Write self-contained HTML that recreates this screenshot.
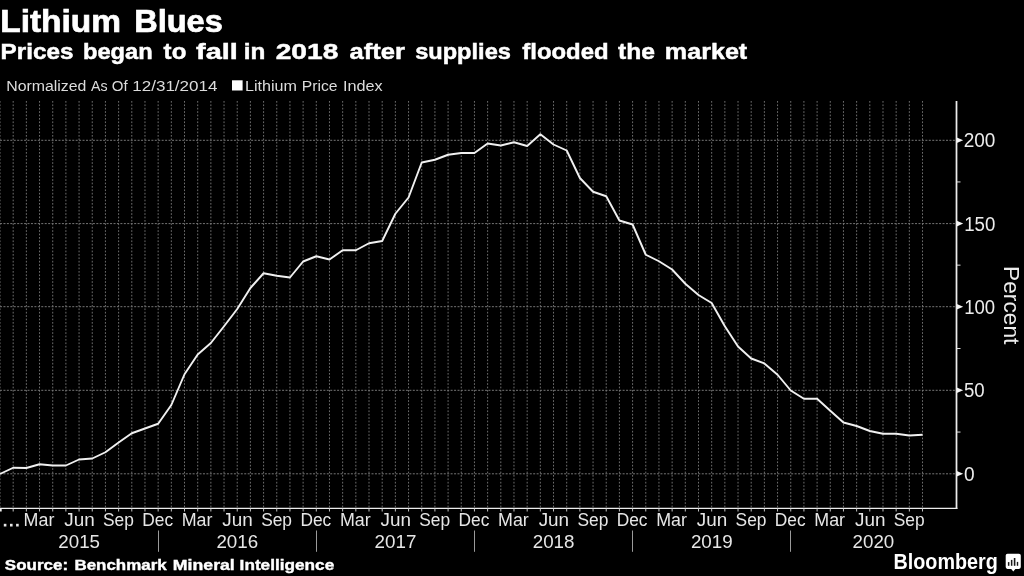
<!DOCTYPE html>
<html><head><meta charset="utf-8"><title>Lithium Blues</title>
<style>
html,body{margin:0;padding:0;background:#000;}
body{width:1024px;height:576px;overflow:hidden;font-family:"Liberation Sans",sans-serif;}
svg{display:block;position:absolute;left:0;top:0;will-change:transform;}
text{font-family:"Liberation Sans",sans-serif;}
</style></head>
<body>
<svg width="1024" height="576" viewBox="0 0 1024 576">
<rect x="232" y="80.3" width="10.6" height="10.2" fill="#fff"/>
<g stroke="#6e6e6e" stroke-width="1" stroke-dasharray="1.7 1.7" fill="none"><line x1="0.00" y1="101" x2="0.00" y2="508"/><line x1="13.18" y1="101" x2="13.18" y2="508"/><line x1="26.36" y1="101" x2="26.36" y2="508"/><line x1="39.54" y1="101" x2="39.54" y2="508"/><line x1="52.72" y1="101" x2="52.72" y2="508"/><line x1="65.89" y1="101" x2="65.89" y2="508"/><line x1="79.07" y1="101" x2="79.07" y2="508"/><line x1="92.25" y1="101" x2="92.25" y2="508"/><line x1="105.43" y1="101" x2="105.43" y2="508"/><line x1="118.61" y1="101" x2="118.61" y2="508"/><line x1="131.79" y1="101" x2="131.79" y2="508"/><line x1="144.97" y1="101" x2="144.97" y2="508"/><line x1="158.15" y1="101" x2="158.15" y2="508"/><line x1="171.33" y1="101" x2="171.33" y2="508"/><line x1="184.51" y1="101" x2="184.51" y2="508"/><line x1="197.69" y1="101" x2="197.69" y2="508"/><line x1="210.86" y1="101" x2="210.86" y2="508"/><line x1="224.04" y1="101" x2="224.04" y2="508"/><line x1="237.22" y1="101" x2="237.22" y2="508"/><line x1="250.40" y1="101" x2="250.40" y2="508"/><line x1="263.58" y1="101" x2="263.58" y2="508"/><line x1="276.76" y1="101" x2="276.76" y2="508"/><line x1="289.94" y1="101" x2="289.94" y2="508"/><line x1="303.12" y1="101" x2="303.12" y2="508"/><line x1="316.30" y1="101" x2="316.30" y2="508"/><line x1="329.48" y1="101" x2="329.48" y2="508"/><line x1="342.65" y1="101" x2="342.65" y2="508"/><line x1="355.83" y1="101" x2="355.83" y2="508"/><line x1="369.01" y1="101" x2="369.01" y2="508"/><line x1="382.19" y1="101" x2="382.19" y2="508"/><line x1="395.37" y1="101" x2="395.37" y2="508"/><line x1="408.55" y1="101" x2="408.55" y2="508"/><line x1="421.73" y1="101" x2="421.73" y2="508"/><line x1="434.91" y1="101" x2="434.91" y2="508"/><line x1="448.09" y1="101" x2="448.09" y2="508"/><line x1="461.26" y1="101" x2="461.26" y2="508"/><line x1="474.44" y1="101" x2="474.44" y2="508"/><line x1="487.62" y1="101" x2="487.62" y2="508"/><line x1="500.80" y1="101" x2="500.80" y2="508"/><line x1="513.98" y1="101" x2="513.98" y2="508"/><line x1="527.16" y1="101" x2="527.16" y2="508"/><line x1="540.34" y1="101" x2="540.34" y2="508"/><line x1="553.52" y1="101" x2="553.52" y2="508"/><line x1="566.70" y1="101" x2="566.70" y2="508"/><line x1="579.88" y1="101" x2="579.88" y2="508"/><line x1="593.06" y1="101" x2="593.06" y2="508"/><line x1="606.23" y1="101" x2="606.23" y2="508"/><line x1="619.41" y1="101" x2="619.41" y2="508"/><line x1="632.59" y1="101" x2="632.59" y2="508"/><line x1="645.77" y1="101" x2="645.77" y2="508"/><line x1="658.95" y1="101" x2="658.95" y2="508"/><line x1="672.13" y1="101" x2="672.13" y2="508"/><line x1="685.31" y1="101" x2="685.31" y2="508"/><line x1="698.49" y1="101" x2="698.49" y2="508"/><line x1="711.67" y1="101" x2="711.67" y2="508"/><line x1="724.85" y1="101" x2="724.85" y2="508"/><line x1="738.02" y1="101" x2="738.02" y2="508"/><line x1="751.20" y1="101" x2="751.20" y2="508"/><line x1="764.38" y1="101" x2="764.38" y2="508"/><line x1="777.56" y1="101" x2="777.56" y2="508"/><line x1="790.74" y1="101" x2="790.74" y2="508"/><line x1="803.92" y1="101" x2="803.92" y2="508"/><line x1="817.10" y1="101" x2="817.10" y2="508"/><line x1="830.28" y1="101" x2="830.28" y2="508"/><line x1="843.46" y1="101" x2="843.46" y2="508"/><line x1="856.63" y1="101" x2="856.63" y2="508"/><line x1="869.81" y1="101" x2="869.81" y2="508"/><line x1="882.99" y1="101" x2="882.99" y2="508"/><line x1="896.17" y1="101" x2="896.17" y2="508"/><line x1="909.35" y1="101" x2="909.35" y2="508"/><line x1="922.53" y1="101" x2="922.53" y2="508"/></g>
<g stroke="#767676" stroke-width="1" stroke-dasharray="2 1.44" fill="none"><line x1="0" y1="140.3" x2="956" y2="140.3"/><line x1="0" y1="223.6" x2="956" y2="223.6"/><line x1="0" y1="306.7" x2="956" y2="306.7"/><line x1="0" y1="390.3" x2="956" y2="390.3"/><line x1="0" y1="473.8" x2="956" y2="473.8"/></g>
<polyline points="0.00,474.00 13.18,467.75 26.36,468.00 39.54,464.25 52.72,465.50 65.89,465.50 79.07,459.50 92.25,458.50 105.43,452.25 118.61,442.50 131.79,433.25 144.97,428.50 158.15,423.75 171.33,405.00 184.51,374.25 197.69,354.50 210.86,343.00 224.04,326.25 237.22,309.00 250.40,288.00 263.58,273.25 276.76,275.75 289.94,277.50 303.12,261.50 316.30,256.25 329.48,259.50 342.65,250.25 355.83,250.25 369.01,243.25 382.19,241.00 395.37,213.75 408.55,197.50 421.73,162.50 434.91,159.75 448.09,154.75 461.26,153.00 474.44,153.00 487.62,143.50 500.80,145.50 513.98,142.25 527.16,146.00 540.34,134.25 553.52,144.50 566.70,150.50 579.88,178.00 593.06,191.75 606.23,196.25 619.41,220.50 632.59,224.50 645.77,254.75 658.95,261.25 672.13,269.50 685.31,283.75 698.49,295.00 711.67,303.00 724.85,326.25 738.02,346.50 751.20,358.50 764.38,363.50 777.56,374.75 790.74,390.50 803.92,398.75 817.10,398.75 830.28,410.75 843.46,422.50 856.63,426.00 869.81,431.00 882.99,433.75 896.17,433.75 909.35,435.50 922.53,434.75" fill="none" stroke="#f0f0f0" stroke-width="1.9" stroke-linejoin="round" stroke-linecap="butt"/>
<g stroke="#ececec" fill="none">
<line x1="0" y1="508.3" x2="957.4" y2="508.3" stroke-width="1.25"/>
<line x1="956.5" y1="101" x2="956.5" y2="508.9" stroke-width="1.75"/>
<line x1="0.85" y1="508" x2="0.85" y2="511.6" stroke-width="1.7"/>
</g>
<g stroke="#c4c4c4" stroke-width="1" fill="none"><line x1="13.18" y1="508.5" x2="13.18" y2="511.5"/><line x1="26.36" y1="508.5" x2="26.36" y2="511.5"/><line x1="39.54" y1="508.5" x2="39.54" y2="511.5"/><line x1="52.72" y1="508.5" x2="52.72" y2="511.5"/><line x1="65.89" y1="508.5" x2="65.89" y2="511.5"/><line x1="79.07" y1="508.5" x2="79.07" y2="511.5"/><line x1="92.25" y1="508.5" x2="92.25" y2="511.5"/><line x1="105.43" y1="508.5" x2="105.43" y2="511.5"/><line x1="118.61" y1="508.5" x2="118.61" y2="511.5"/><line x1="131.79" y1="508.5" x2="131.79" y2="511.5"/><line x1="144.97" y1="508.5" x2="144.97" y2="511.5"/><line x1="158.15" y1="508.5" x2="158.15" y2="511.5"/><line x1="171.33" y1="508.5" x2="171.33" y2="511.5"/><line x1="184.51" y1="508.5" x2="184.51" y2="511.5"/><line x1="197.69" y1="508.5" x2="197.69" y2="511.5"/><line x1="210.86" y1="508.5" x2="210.86" y2="511.5"/><line x1="224.04" y1="508.5" x2="224.04" y2="511.5"/><line x1="237.22" y1="508.5" x2="237.22" y2="511.5"/><line x1="250.40" y1="508.5" x2="250.40" y2="511.5"/><line x1="263.58" y1="508.5" x2="263.58" y2="511.5"/><line x1="276.76" y1="508.5" x2="276.76" y2="511.5"/><line x1="289.94" y1="508.5" x2="289.94" y2="511.5"/><line x1="303.12" y1="508.5" x2="303.12" y2="511.5"/><line x1="316.30" y1="508.5" x2="316.30" y2="511.5"/><line x1="329.48" y1="508.5" x2="329.48" y2="511.5"/><line x1="342.65" y1="508.5" x2="342.65" y2="511.5"/><line x1="355.83" y1="508.5" x2="355.83" y2="511.5"/><line x1="369.01" y1="508.5" x2="369.01" y2="511.5"/><line x1="382.19" y1="508.5" x2="382.19" y2="511.5"/><line x1="395.37" y1="508.5" x2="395.37" y2="511.5"/><line x1="408.55" y1="508.5" x2="408.55" y2="511.5"/><line x1="421.73" y1="508.5" x2="421.73" y2="511.5"/><line x1="434.91" y1="508.5" x2="434.91" y2="511.5"/><line x1="448.09" y1="508.5" x2="448.09" y2="511.5"/><line x1="461.26" y1="508.5" x2="461.26" y2="511.5"/><line x1="474.44" y1="508.5" x2="474.44" y2="511.5"/><line x1="487.62" y1="508.5" x2="487.62" y2="511.5"/><line x1="500.80" y1="508.5" x2="500.80" y2="511.5"/><line x1="513.98" y1="508.5" x2="513.98" y2="511.5"/><line x1="527.16" y1="508.5" x2="527.16" y2="511.5"/><line x1="540.34" y1="508.5" x2="540.34" y2="511.5"/><line x1="553.52" y1="508.5" x2="553.52" y2="511.5"/><line x1="566.70" y1="508.5" x2="566.70" y2="511.5"/><line x1="579.88" y1="508.5" x2="579.88" y2="511.5"/><line x1="593.06" y1="508.5" x2="593.06" y2="511.5"/><line x1="606.23" y1="508.5" x2="606.23" y2="511.5"/><line x1="619.41" y1="508.5" x2="619.41" y2="511.5"/><line x1="632.59" y1="508.5" x2="632.59" y2="511.5"/><line x1="645.77" y1="508.5" x2="645.77" y2="511.5"/><line x1="658.95" y1="508.5" x2="658.95" y2="511.5"/><line x1="672.13" y1="508.5" x2="672.13" y2="511.5"/><line x1="685.31" y1="508.5" x2="685.31" y2="511.5"/><line x1="698.49" y1="508.5" x2="698.49" y2="511.5"/><line x1="711.67" y1="508.5" x2="711.67" y2="511.5"/><line x1="724.85" y1="508.5" x2="724.85" y2="511.5"/><line x1="738.02" y1="508.5" x2="738.02" y2="511.5"/><line x1="751.20" y1="508.5" x2="751.20" y2="511.5"/><line x1="764.38" y1="508.5" x2="764.38" y2="511.5"/><line x1="777.56" y1="508.5" x2="777.56" y2="511.5"/><line x1="790.74" y1="508.5" x2="790.74" y2="511.5"/><line x1="803.92" y1="508.5" x2="803.92" y2="511.5"/><line x1="817.10" y1="508.5" x2="817.10" y2="511.5"/><line x1="830.28" y1="508.5" x2="830.28" y2="511.5"/><line x1="843.46" y1="508.5" x2="843.46" y2="511.5"/><line x1="856.63" y1="508.5" x2="856.63" y2="511.5"/><line x1="869.81" y1="508.5" x2="869.81" y2="511.5"/><line x1="882.99" y1="508.5" x2="882.99" y2="511.5"/><line x1="896.17" y1="508.5" x2="896.17" y2="511.5"/><line x1="909.35" y1="508.5" x2="909.35" y2="511.5"/><line x1="922.53" y1="508.5" x2="922.53" y2="511.5"/></g><g stroke="#e0e0e0" stroke-width="1" fill="none"><line x1="957" y1="181.95" x2="960.5" y2="181.95"/><line x1="957" y1="265.15" x2="960.5" y2="265.15"/><line x1="957" y1="348.50" x2="960.5" y2="348.50"/><line x1="957" y1="432.05" x2="960.5" y2="432.05"/></g>
<g fill="#f4f4f4"><polygon points="956.8,137.5 963.2,140.3 956.8,143.10000000000002"/><polygon points="956.8,220.79999999999998 963.2,223.6 956.8,226.4"/><polygon points="956.8,303.9 963.2,306.7 956.8,309.5"/><polygon points="956.8,387.5 963.2,390.3 956.8,393.1"/><polygon points="956.8,471.0 963.2,473.8 956.8,476.6"/></g>
<g stroke="#9a9a9a" stroke-width="1" fill="none"><line x1="158.5" y1="530.5" x2="158.5" y2="551.8"/><line x1="316.5" y1="530.5" x2="316.5" y2="551.8"/><line x1="474.5" y1="530.5" x2="474.5" y2="551.8"/><line x1="632.5" y1="530.5" x2="632.5" y2="551.8"/><line x1="790.5" y1="530.5" x2="790.5" y2="551.8"/></g>
<text x="0.25" y="31.5" font-size="31.9" font-weight="bold" fill="#fff" stroke="#fff" stroke-width="0.7" textLength="120.79" lengthAdjust="spacingAndGlyphs">Lithium</text>
<text x="134.16" y="31.5" font-size="31.9" font-weight="bold" fill="#fff" stroke="#fff" stroke-width="0.7" textLength="88.65" lengthAdjust="spacingAndGlyphs">Blues</text>
<text x="0.58" y="58.8" font-size="22.9" font-weight="bold" fill="#fff" stroke="#fff" stroke-width="0.5" textLength="72.79" lengthAdjust="spacingAndGlyphs">Prices</text>
<text x="82.96" y="58.8" font-size="22.9" font-weight="bold" fill="#fff" stroke="#fff" stroke-width="0.5" textLength="69.7" lengthAdjust="spacingAndGlyphs">began</text>
<text x="163.63" y="58.8" font-size="22.9" font-weight="bold" fill="#fff" stroke="#fff" stroke-width="0.5" textLength="22.68" lengthAdjust="spacingAndGlyphs">to</text>
<text x="196.05" y="58.8" font-size="22.9" font-weight="bold" fill="#fff" stroke="#fff" stroke-width="0.5" textLength="41.76" lengthAdjust="spacingAndGlyphs">fall</text>
<text x="243.66" y="58.8" font-size="22.9" font-weight="bold" fill="#fff" stroke="#fff" stroke-width="0.5" textLength="21.58" lengthAdjust="spacingAndGlyphs">in</text>
<text x="275.69" y="58.8" font-size="22.9" font-weight="bold" fill="#fff" stroke="#fff" stroke-width="0.5" textLength="62.63" lengthAdjust="spacingAndGlyphs">2018</text>
<text x="349.56" y="58.8" font-size="22.9" font-weight="bold" fill="#fff" stroke="#fff" stroke-width="0.5" textLength="55.31" lengthAdjust="spacingAndGlyphs">after</text>
<text x="415.16" y="58.8" font-size="22.9" font-weight="bold" fill="#fff" stroke="#fff" stroke-width="0.5" textLength="95.73" lengthAdjust="spacingAndGlyphs">supplies</text>
<text x="522.33" y="58.8" font-size="22.9" font-weight="bold" fill="#fff" stroke="#fff" stroke-width="0.5" textLength="86.22" lengthAdjust="spacingAndGlyphs">flooded</text>
<text x="618.12" y="58.8" font-size="22.9" font-weight="bold" fill="#fff" stroke="#fff" stroke-width="0.5" textLength="36.95" lengthAdjust="spacingAndGlyphs">the</text>
<text x="664.88" y="58.8" font-size="22.9" font-weight="bold" fill="#fff" stroke="#fff" stroke-width="0.5" textLength="82.36" lengthAdjust="spacingAndGlyphs">market</text>
<text x="6.18" y="91" font-size="15.1" fill="#dcdcdc" textLength="80.27" lengthAdjust="spacingAndGlyphs">Normalized</text>
<text x="91.01" y="91" font-size="15.1" fill="#dcdcdc" textLength="16.58" lengthAdjust="spacingAndGlyphs">As</text>
<text x="111.84" y="91" font-size="15.1" fill="#dcdcdc" textLength="15.87" lengthAdjust="spacingAndGlyphs">Of</text>
<text x="132.26" y="91" font-size="15.1" fill="#dcdcdc" textLength="85.25" lengthAdjust="spacingAndGlyphs">12/31/2014</text>
<text x="245.06" y="91" font-size="15.1" fill="#dcdcdc" textLength="51.98" lengthAdjust="spacingAndGlyphs">Lithium</text>
<text x="301.7" y="91" font-size="15.1" fill="#dcdcdc" textLength="35.82" lengthAdjust="spacingAndGlyphs">Price</text>
<text x="342.91" y="91" font-size="15.1" fill="#dcdcdc" textLength="39.8" lengthAdjust="spacingAndGlyphs">Index</text>
<text x="963.66" y="147.3" font-size="20.3" fill="#ececec" textLength="31.7" lengthAdjust="spacingAndGlyphs">200</text>
<text x="964.22" y="230.6" font-size="20.3" fill="#ececec" textLength="31.12" lengthAdjust="spacingAndGlyphs">150</text>
<text x="964.23" y="313.7" font-size="20.3" fill="#ececec" textLength="30.91" lengthAdjust="spacingAndGlyphs">100</text>
<text x="963.97" y="397.3" font-size="20.3" fill="#ececec" textLength="20.73" lengthAdjust="spacingAndGlyphs">50</text>
<text x="964.02" y="480.8" font-size="20.3" fill="#ececec" textLength="10.61" lengthAdjust="spacingAndGlyphs">0</text>
<text x="23.6" y="526.4" font-size="18.7" fill="#e6e6e6" textLength="30.73" lengthAdjust="spacingAndGlyphs">Mar</text>
<text x="64.22" y="526.4" font-size="18.7" fill="#e6e6e6" textLength="30.45" lengthAdjust="spacingAndGlyphs">Jun</text>
<text x="102.99" y="526.4" font-size="18.7" fill="#e6e6e6" textLength="30.91" lengthAdjust="spacingAndGlyphs">Sep</text>
<text x="142.26" y="526.4" font-size="18.7" fill="#e6e6e6" textLength="30.81" lengthAdjust="spacingAndGlyphs">Dec</text>
<text x="181.75" y="526.4" font-size="18.7" fill="#e6e6e6" textLength="30.73" lengthAdjust="spacingAndGlyphs">Mar</text>
<text x="222.36" y="526.4" font-size="18.7" fill="#e6e6e6" textLength="30.45" lengthAdjust="spacingAndGlyphs">Jun</text>
<text x="261.13" y="526.4" font-size="18.7" fill="#e6e6e6" textLength="30.91" lengthAdjust="spacingAndGlyphs">Sep</text>
<text x="300.4" y="526.4" font-size="18.7" fill="#e6e6e6" textLength="30.81" lengthAdjust="spacingAndGlyphs">Dec</text>
<text x="339.9" y="526.4" font-size="18.7" fill="#e6e6e6" textLength="30.73" lengthAdjust="spacingAndGlyphs">Mar</text>
<text x="380.51" y="526.4" font-size="18.7" fill="#e6e6e6" textLength="30.45" lengthAdjust="spacingAndGlyphs">Jun</text>
<text x="419.28" y="526.4" font-size="18.7" fill="#e6e6e6" textLength="30.91" lengthAdjust="spacingAndGlyphs">Sep</text>
<text x="458.55" y="526.4" font-size="18.7" fill="#e6e6e6" textLength="30.81" lengthAdjust="spacingAndGlyphs">Dec</text>
<text x="498.05" y="526.4" font-size="18.7" fill="#e6e6e6" textLength="30.73" lengthAdjust="spacingAndGlyphs">Mar</text>
<text x="538.66" y="526.4" font-size="18.7" fill="#e6e6e6" textLength="30.45" lengthAdjust="spacingAndGlyphs">Jun</text>
<text x="577.43" y="526.4" font-size="18.7" fill="#e6e6e6" textLength="30.91" lengthAdjust="spacingAndGlyphs">Sep</text>
<text x="616.7" y="526.4" font-size="18.7" fill="#e6e6e6" textLength="30.81" lengthAdjust="spacingAndGlyphs">Dec</text>
<text x="656.2" y="526.4" font-size="18.7" fill="#e6e6e6" textLength="30.73" lengthAdjust="spacingAndGlyphs">Mar</text>
<text x="696.81" y="526.4" font-size="18.7" fill="#e6e6e6" textLength="30.45" lengthAdjust="spacingAndGlyphs">Jun</text>
<text x="735.58" y="526.4" font-size="18.7" fill="#e6e6e6" textLength="30.91" lengthAdjust="spacingAndGlyphs">Sep</text>
<text x="774.85" y="526.4" font-size="18.7" fill="#e6e6e6" textLength="30.81" lengthAdjust="spacingAndGlyphs">Dec</text>
<text x="814.34" y="526.4" font-size="18.7" fill="#e6e6e6" textLength="30.73" lengthAdjust="spacingAndGlyphs">Mar</text>
<text x="854.96" y="526.4" font-size="18.7" fill="#e6e6e6" textLength="30.45" lengthAdjust="spacingAndGlyphs">Jun</text>
<text x="893.73" y="526.4" font-size="18.7" fill="#e6e6e6" textLength="30.91" lengthAdjust="spacingAndGlyphs">Sep</text>
<text x="58.31" y="547.8" font-size="19.0" fill="#e6e6e6" textLength="41.7" lengthAdjust="spacingAndGlyphs">2015</text>
<text x="216.45" y="547.8" font-size="19.0" fill="#e6e6e6" textLength="41.73" lengthAdjust="spacingAndGlyphs">2016</text>
<text x="374.6" y="547.8" font-size="19.0" fill="#e6e6e6" textLength="41.84" lengthAdjust="spacingAndGlyphs">2017</text>
<text x="532.75" y="547.8" font-size="19.0" fill="#e6e6e6" textLength="41.73" lengthAdjust="spacingAndGlyphs">2018</text>
<text x="690.9" y="547.8" font-size="19.0" fill="#e6e6e6" textLength="41.77" lengthAdjust="spacingAndGlyphs">2019</text>
<text x="852.6" y="547.8" font-size="19.0" fill="#e6e6e6" textLength="41.64" lengthAdjust="spacingAndGlyphs">2020</text>
<text x="4.89" y="569.6" font-size="15.3" font-weight="bold" fill="#fff" stroke="#fff" stroke-width="0.4" textLength="63.17" lengthAdjust="spacingAndGlyphs">Source:</text>
<text x="74.43" y="569.6" font-size="15.3" font-weight="bold" fill="#fff" stroke="#fff" stroke-width="0.4" textLength="92.24" lengthAdjust="spacingAndGlyphs">Benchmark</text>
<text x="172.88" y="569.6" font-size="15.3" font-weight="bold" fill="#fff" stroke="#fff" stroke-width="0.4" textLength="61.92" lengthAdjust="spacingAndGlyphs">Mineral</text>
<text x="239.61" y="569.6" font-size="15.3" font-weight="bold" fill="#fff" stroke="#fff" stroke-width="0.4" textLength="94.62" lengthAdjust="spacingAndGlyphs">Intelligence</text>
<text x="893.5" y="569" font-size="21.4" font-weight="bold" fill="#fff" textLength="104.28" lengthAdjust="spacingAndGlyphs">Bloomberg</text>
<g fill="#e6e6e6"><rect x="3.8" y="523.8" width="2.6" height="2.7"/><rect x="10" y="523.8" width="2.6" height="2.7"/><rect x="16.1" y="523.8" width="2.6" height="2.7"/></g>
<text transform="translate(1003.8,268) rotate(90)" x="-2.06" y="0" font-size="22.6" fill="#ececec" textLength="78.51" lengthAdjust="spacingAndGlyphs">Percent</text>
<g>
<path d="M1007.5 553.8 h11.5 a1.8 1.8 0 0 1 1.8 1.8 v11.5 a1.8 1.8 0 0 1 -1.8 1.8 h-3.6 l-2.1 2.7 l-2.1 -2.7 h-3.7 a1.8 1.8 0 0 1 -1.8 -1.8 v-11.5 a1.8 1.8 0 0 1 1.8 -1.8 z" fill="#fff"/>
<g fill="#1a1a1a">
<rect x="1007.9" y="562.1" width="1.5" height="3.7"/>
<rect x="1010.9" y="559.9" width="1.5" height="5.9"/>
<rect x="1013.8" y="558" width="1.6" height="7.8"/>
<rect x="1016.8" y="561.9" width="1.4" height="3.9"/>
</g>
</g>
</svg>
</body></html>
